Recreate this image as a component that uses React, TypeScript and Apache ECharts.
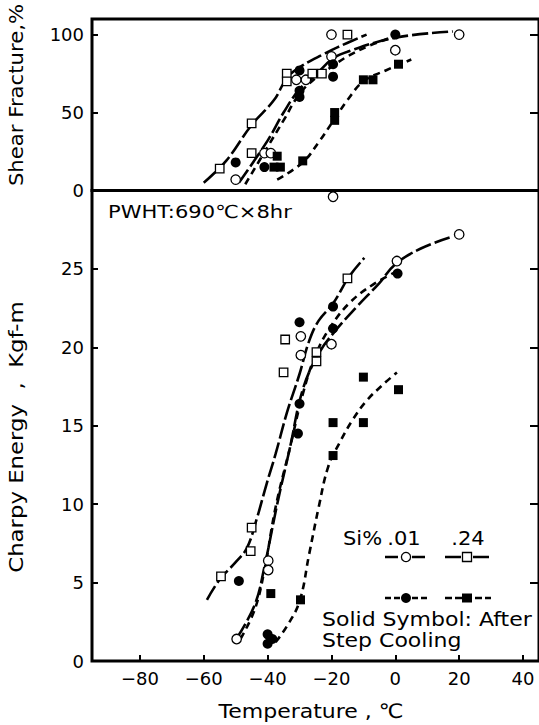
import React, { useEffect, useRef } from "react";
import * as echarts from "echarts";

// ---------- data ----------
const xTicks = [-80, -60, -40, -20, 0, 20, 40];
const sfTicks = [0, 50, 100];
const ceTicks = [0, 5, 10, 15, 20, 25];

// Shear fracture (%) vs temperature (°C)
const sfOpenCircle = [[-20, 100], [20, 100], [0, 90], [-20, 86], [-31, 71], [-28, 71], [-41, 24], [-39, 24], [-50, 7], [-19.5, -4]];
const sfOpenSquare = [[-15, 100], [-34, 75], [-34, 70], [-26, 75], [-23, 75], [-45, 43], [-45, 24], [-55, 14]];
const sfSolidCircle = [[0, 100], [-30, 77], [-19.5, 81], [-19.5, 73], [-30, 64], [-30, 60], [-50, 18], [-41, 15]];
const sfSolidSquare = [[1, 81], [-10, 71], [-7, 71], [-19, 50], [-19, 45], [-29, 19], [-37, 22], [-38, 15], [-36, 15]];

const sfFitOpenSquare = [[-60, 5], [-53, 19], [-45, 42], [-38, 58], [-34, 72], [-30, 79], [-22, 88], [-18, 92], [-9, 100]];
const sfFitOpenCircle = [[-49, 5], [-40, 32], [-35, 50], [-30, 65], [-25, 74], [-20, 84], [-15, 89], [0, 98], [18, 102]];
const sfFitSolidCircle = [[-47, 4], [-40, 28], [-35, 45], [-30, 62], [-25, 72], [-19.5, 80], [-15, 86], [-8, 93], [0, 99]];
const sfFitSolidSquare = [[-37, 7], [-29, 18], [-24, 31], [-19, 46], [-15, 58], [-10, 70], [-3, 77], [5, 84]];

// Charpy energy (kgf-m) vs temperature (°C)
const ceOpenCircle = [[20, 27.2], [0.5, 25.5], [-29.6, 20.7], [-29.6, 19.5], [-20, 20.2], [-39.8, 6.4], [-39.8, 5.8], [-49.7, 1.4]];
const ceOpenSquare = [[-15, 24.4], [-34.5, 20.5], [-35, 18.4], [-24.7, 19.7], [-24.7, 19.1], [-45, 8.5], [-45.3, 7.0], [-54.6, 5.4]];
const ceSolidCircle = [[0.7, 24.7], [-30, 21.6], [-19.5, 22.6], [-19.5, 21.2], [-30, 16.4], [-30.5, 14.5], [-49, 5.1], [-40, 1.7], [-40, 1.1], [-38.5, 1.4]];
const ceSolidSquare = [[-10, 18.1], [1, 17.3], [-19.5, 15.2], [-10, 15.2], [-19.5, 13.1], [-39, 4.3], [-29.7, 3.9]];

const ceFitOpenSquare = [[-59, 3.9], [-55, 5.2], [-50, 6.3], [-46.5, 7.2], [-43.5, 9], [-40.3, 11.3], [-37.5, 13.2], [-34, 15.8], [-30, 18.3], [-27, 20.4], [-24, 21.7], [-19.5, 22.8], [-14.5, 24.5], [-9.7, 25.7]];
const ceFitOpenCircle = [[-49.5, 1.5], [-44, 3.6], [-41, 6], [-37, 10], [-33, 13.6], [-29, 17.3], [-24, 19.6], [-19, 21], [-12, 22.6], [-5, 24.1], [0, 25.3], [8, 26.3], [17, 27]];
const ceFitSolidCircle = [[-48.5, 1.4], [-44, 3.3], [-41, 5.8], [-37.5, 9.8], [-33, 13.6], [-29, 17], [-25, 19.5], [-20, 21.4], [-14, 22.9], [-7, 24], [0, 24.8]];
const ceFitSolidSquare = [[-37.5, 1.2], [-34, 2.2], [-30, 3.8], [-27, 6.8], [-24, 9.8], [-21, 12.4], [-17.5, 13.9], [-13.3, 15.4], [-9, 16.6], [-4, 17.6], [0.5, 18.4]];

// ---------- styling ----------
const FONT = "DejaVu Sans";
const BLACK = "#000";
const longDash = [16, 4];
const shortDash = [7, 5];

function scatter(data: number[][], symbol: string, filled: boolean, gi: number, size: number) {
  return {
    type: "scatter",
    xAxisIndex: gi,
    yAxisIndex: gi * 2,
    data,
    symbol,
    symbolSize: size,
    clip: false,
    z: 5,
    itemStyle: {
      color: filled ? BLACK : "#fff",
      borderColor: BLACK,
      borderWidth: filled ? 0 : 1.3,
      opacity: 1,
    },
  };
}

function fit(data: number[][], dash: number[], gi: number) {
  return {
    type: "line",
    xAxisIndex: gi,
    yAxisIndex: gi * 2,
    data,
    smooth: 0.4,
    showSymbol: false,
    symbol: "none",
    z: 3,
    lineStyle: { color: BLACK, width: 2.6, type: dash },
  };
}

const label = { color: BLACK, fontFamily: FONT, fontSize: 18 };
const tick = (vals: number[], len = 6) => ({
  show: true,
  inside: true,
  length: len,
  customValues: vals,
  lineStyle: { color: BLACK, width: 2 },
});
const noLine = { show: false, onZero: false };

function txt(text: string, x: number, y: number, size: number, opts: any = {}) {
  return {
    type: "text",
    x,
    y,
    z: 20,
    ...opts,
    style: {
      text,
      fill: BLACK,
      font: `${size}px "${FONT}"`,
      textAlign: opts.align || "left",
      textVerticalAlign: "middle",
    },
  };
}

export default function App() {
  const ref = useRef<HTMLDivElement>(null);
  useEffect(() => {
    const chart = echarts.init(ref.current!, null, { renderer: "svg" });
    const option: any = {
      animation: false,
      backgroundColor: "#fff",
      grid: [
        { left: 92, top: 19, width: 449, height: 171.5, show: true, borderColor: BLACK, borderWidth: 3, backgroundColor: "transparent" },
        { left: 92, top: 190.5, width: 449, height: 470.5, show: true, borderColor: BLACK, borderWidth: 3, backgroundColor: "transparent" },
      ],
      xAxis: [
        {
          gridIndex: 0, type: "value", min: -95, max: 45,
          axisLine: noLine, axisTick: { show: false }, axisLabel: { show: false }, splitLine: { show: false },
        },
        {
          gridIndex: 1, type: "value", min: -95, max: 45,
          axisLine: noLine,
          axisTick: tick(xTicks),
          axisLabel: { ...label, customValues: xTicks, margin: 8, formatter: (v: number) => (v < 0 ? "\u2212" + Math.abs(v) : String(v)) },
          splitLine: { show: false },
        },
      ],
      yAxis: [
        {
          gridIndex: 0, type: "value", min: 0, max: 110,
          axisLine: noLine, axisTick: tick(sfTicks),
          axisLabel: { ...label, customValues: sfTicks, margin: 8 },
          splitLine: { show: false },
        },
        {
          gridIndex: 0, type: "value", min: 0, max: 110, position: "right",
          axisLine: noLine, axisTick: tick([50, 100], 9), axisLabel: { show: false }, splitLine: { show: false },
        },
        {
          gridIndex: 1, type: "value", min: 0, max: 30,
          axisLine: noLine, axisTick: tick(ceTicks),
          axisLabel: { ...label, customValues: ceTicks, margin: 8 },
          splitLine: { show: false },
        },
        {
          gridIndex: 1, type: "value", min: 0, max: 30, position: "right",
          axisLine: noLine, axisTick: tick([5, 10, 15, 20, 25], 9), axisLabel: { show: false }, splitLine: { show: false },
        },
      ],
      series: [
        fit(sfFitOpenSquare, longDash, 0),
        fit(sfFitOpenCircle, longDash, 0),
        fit(sfFitSolidCircle, shortDash, 0),
        fit(sfFitSolidSquare, shortDash, 0),
        scatter(sfOpenCircle, "circle", false, 0, 9.5),
        scatter(sfOpenSquare, "rect", false, 0, 8.5),
        scatter(sfSolidCircle, "circle", true, 0, 10),
        scatter(sfSolidSquare, "rect", true, 0, 9),
        fit(ceFitOpenSquare, longDash, 1),
        fit(ceFitOpenCircle, longDash, 1),
        fit(ceFitSolidCircle, shortDash, 1),
        fit(ceFitSolidSquare, shortDash, 1),
        scatter(ceOpenCircle, "circle", false, 1, 9.5),
        scatter(ceOpenSquare, "rect", false, 1, 8.5),
        scatter(ceSolidCircle, "circle", true, 1, 10),
        scatter(ceSolidSquare, "rect", true, 1, 9),
      ],
      graphic: [
        txt("Shear Fracture,%", 16, 95, 20, { rotation: Math.PI / 2, scaleX: 1.06, align: "center" }),
        txt("Charpy Energy  ,  Kgf-m", 16, 437, 20, { rotation: Math.PI / 2, scaleX: 1.14, align: "center" }),
        txt("Temperature , \u2103", 311, 711, 20, { scaleX: 1.1, align: "center" }),
        txt("PWHT:690\u2103\u00d78hr", 108, 212, 18, { scaleX: 1.17 }),
        // legend
        txt("Si%", 343, 538, 20, { scaleX: 1.05 }),
        txt(".01", 404, 538, 20, { scaleX: 1.05, align: "center" }),
        txt(".24", 468, 538, 20, { scaleX: 1.05, align: "center" }),
        { type: "line", shape: { x1: 385, y1: 557, x2: 426, y2: 557 }, style: { stroke: BLACK, lineWidth: 2.6, lineDash: [13, 14] } },
        { type: "circle", shape: { cx: 406, cy: 557, r: 4.6 }, style: { fill: "#fff", stroke: BLACK, lineWidth: 1.3 }, z: 10 },
        { type: "line", shape: { x1: 445, y1: 557, x2: 489, y2: 557 }, style: { stroke: BLACK, lineWidth: 2.6, lineDash: [16, 12] } },
        { type: "rect", shape: { x: 462.5, y: 552.5, width: 9, height: 9 }, style: { fill: "#fff", stroke: BLACK, lineWidth: 1.3 }, z: 10 },
        { type: "line", shape: { x1: 385, y1: 598, x2: 428, y2: 598 }, style: { stroke: BLACK, lineWidth: 2.6, lineDash: [6, 3] } },
        { type: "circle", shape: { cx: 406, cy: 598, r: 5 }, style: { fill: BLACK }, z: 10 },
        { type: "line", shape: { x1: 445, y1: 598, x2: 491, y2: 598 }, style: { stroke: BLACK, lineWidth: 2.6, lineDash: [7, 3] } },
        { type: "rect", shape: { x: 462, y: 593.5, width: 10, height: 9 }, style: { fill: BLACK }, z: 10 },
        txt("Solid Symbol: After", 322, 619, 20, { scaleX: 1.1 }),
        txt("Step Cooling", 322, 640, 20, { scaleX: 1.1 }),
      ],
    };
    chart.setOption(option);
    return () => chart.dispose();
  }, []);
  return (
    <div
      ref={ref}
      style={{ position: "fixed", left: 0, top: 0, width: 539, height: 725, background: "#fff" }}
    />
  );
}
